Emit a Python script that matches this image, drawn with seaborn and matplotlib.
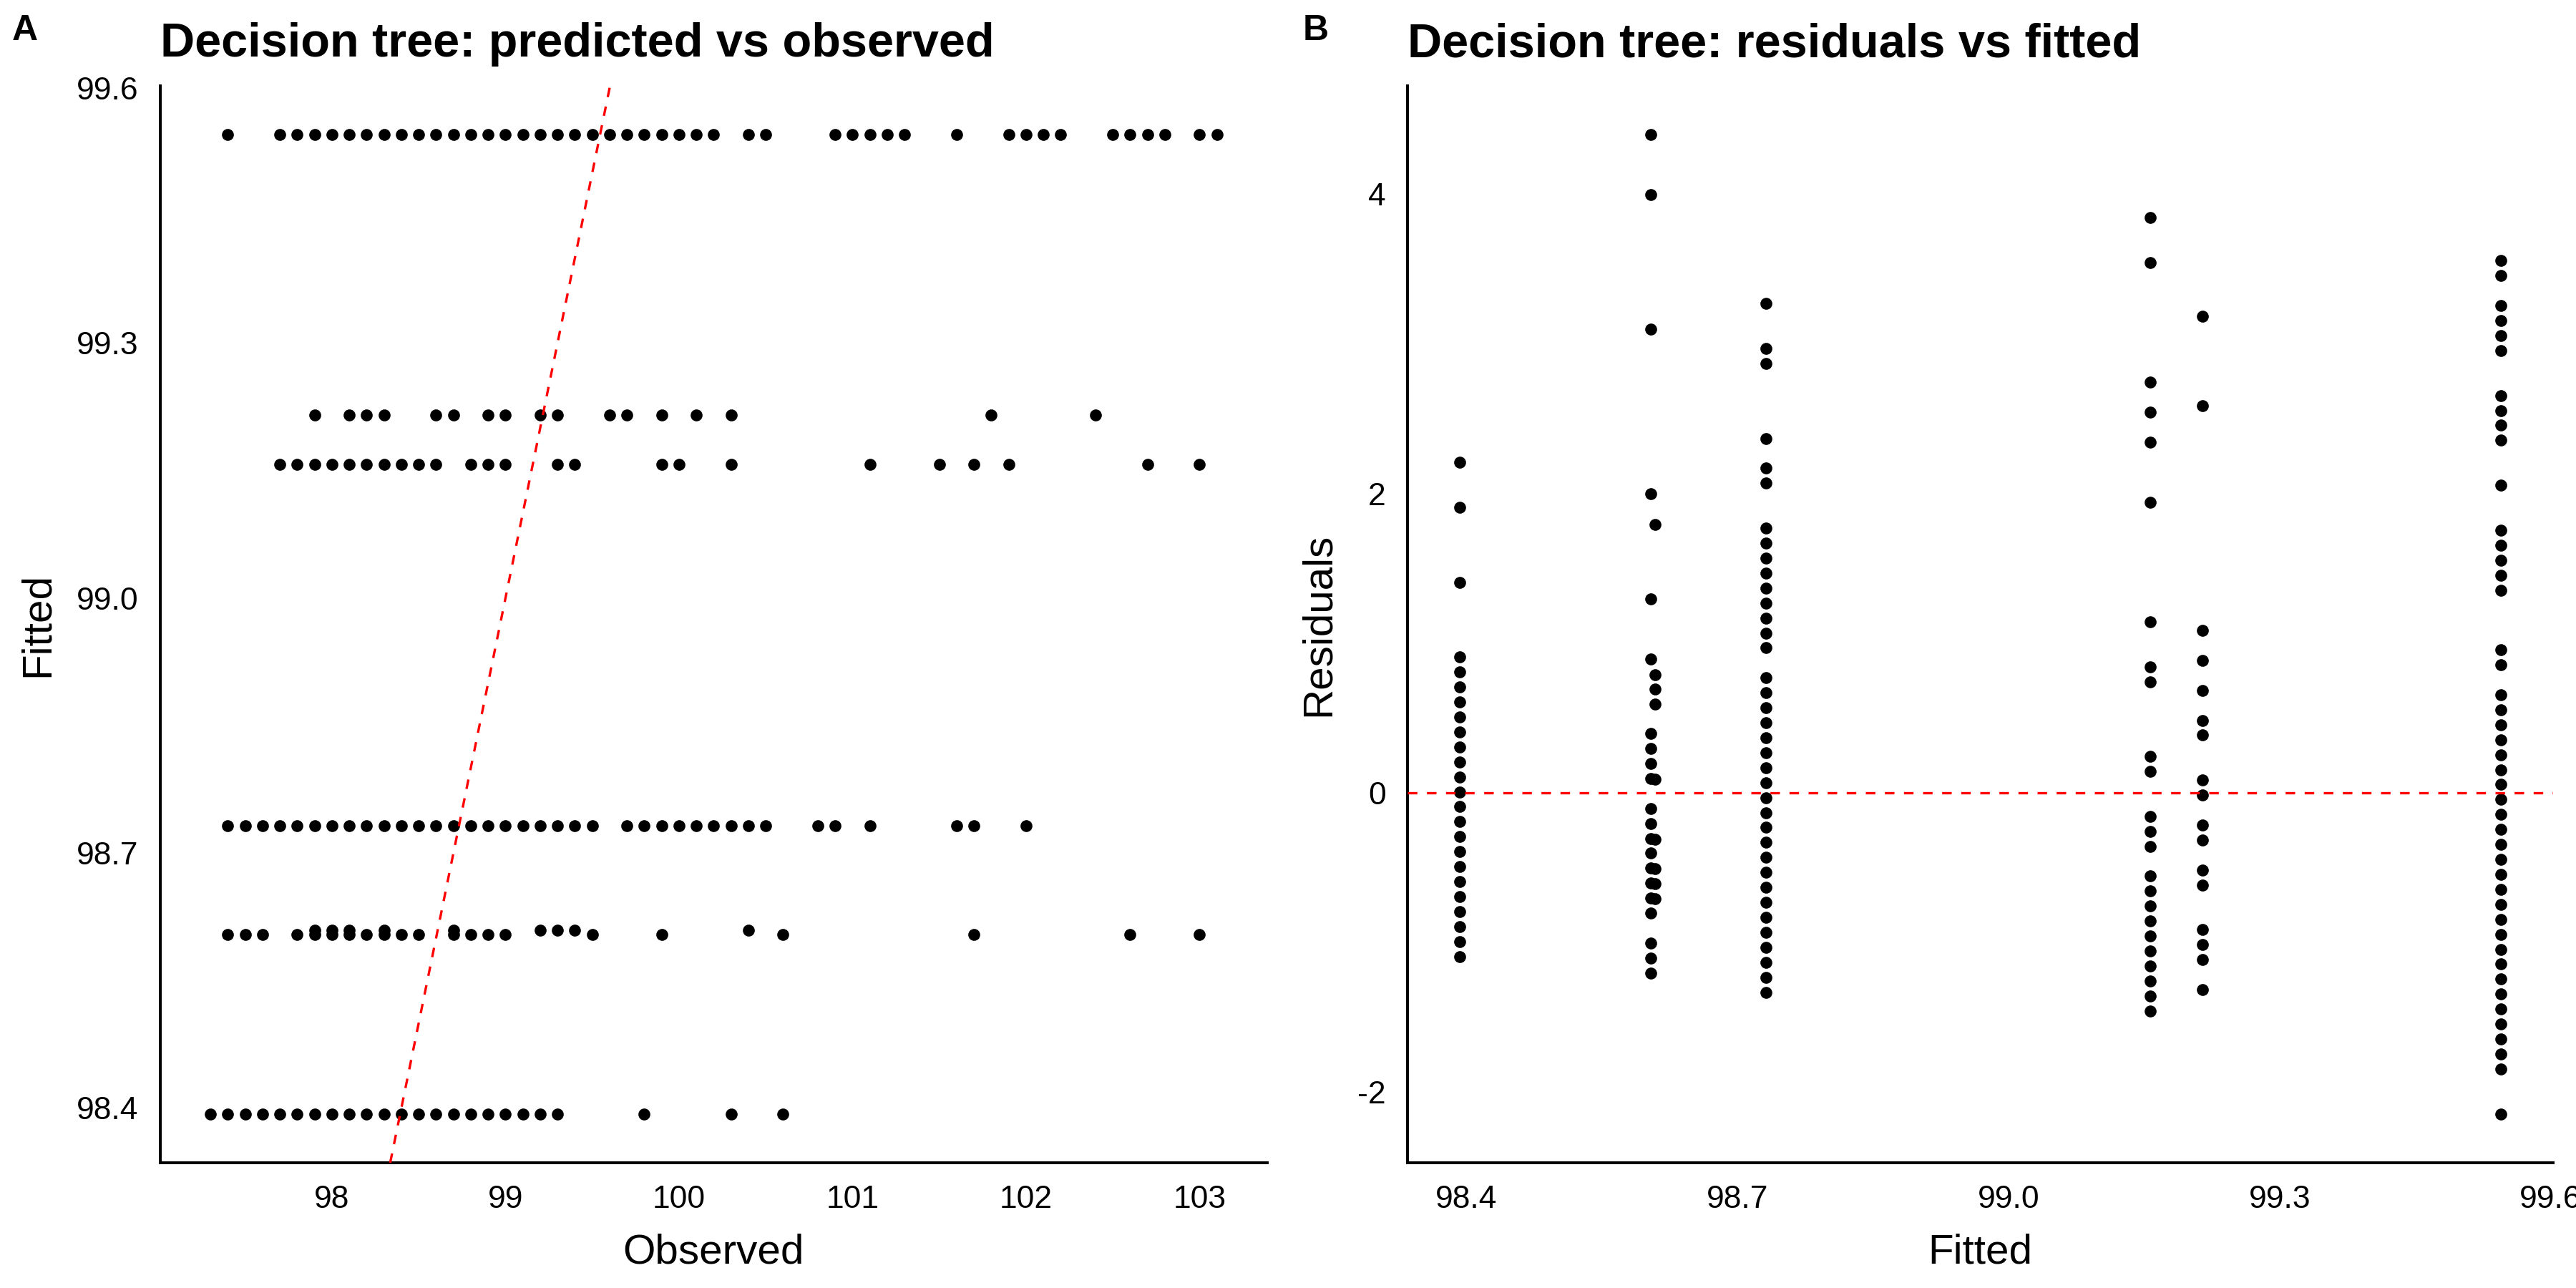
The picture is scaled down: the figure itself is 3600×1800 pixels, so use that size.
import pandas as pd
import numpy as np
import matplotlib
matplotlib.use("Agg")
import matplotlib.pyplot as plt
import seaborn as sns

# Fitted values of the tree leaves
fit_a = 98.393
fit_b = 98.604
fit_b2 = 98.609
fit_c = 98.732
fit_d = 99.157
fit_e = 99.215
fit_f = 99.545

obs_a = [97.3, 97.4, 97.5, 97.6, 97.7, 97.8, 97.9, 98.0, 98.1, 98.2, 98.3, 98.4,
         98.5, 98.6, 98.7, 98.8, 98.9, 99.0, 99.1, 99.2, 99.3, 99.8, 100.3, 100.6]
obs_b = [97.4, 97.5, 97.6, 97.8, 97.9, 98.0, 98.1, 98.2, 98.3, 98.4, 98.5, 98.7,
         98.8, 98.9, 99.0, 99.5, 99.9, 100.6, 101.7, 102.6, 103.0]
obs_b2 = [97.9, 98.0, 98.1, 98.3, 98.7, 99.2, 99.3, 99.4, 100.4]
obs_c = [97.4, 97.5, 97.6, 97.7, 97.8, 97.9, 98.0, 98.1, 98.2, 98.3, 98.4, 98.5,
         98.6, 98.7, 98.8, 98.9, 99.0, 99.1, 99.2, 99.3, 99.4, 99.5, 99.7, 99.8,
         99.9, 100.0, 100.1, 100.2, 100.3, 100.4, 100.5, 100.8, 100.9, 101.1,
         101.6, 101.7, 102.0]
obs_d = [97.7, 97.8, 97.9, 98.0, 98.1, 98.2, 98.3, 98.4, 98.5, 98.6, 98.8, 98.9,
         99.0, 99.3, 99.4, 99.9, 100.0, 100.3, 101.1, 101.5, 101.7, 101.9, 102.7,
         103.0]
obs_e = [97.9, 98.1, 98.2, 98.3, 98.6, 98.7, 98.9, 99.0, 99.2, 99.3, 99.6, 99.7,
         99.9, 100.1, 100.3, 101.8, 102.4]
obs_f = [97.4, 97.7, 97.8, 97.9, 98.0, 98.1, 98.2, 98.3, 98.4, 98.5, 98.6, 98.7,
         98.8, 98.9, 99.0, 99.1, 99.2, 99.3, 99.4, 99.5, 99.6, 99.7, 99.8, 99.9,
         100.0, 100.1, 100.2, 100.4, 100.5, 100.9, 101.0, 101.1, 101.2, 101.3,
         101.6, 101.9, 102.0, 102.1, 102.2, 102.5, 102.6, 102.7, 102.8, 103.0,
         103.1]

fit_ticks = [98.4, 98.7, 99.0, 99.3, 99.6]
obs_ticks = [98, 99, 100, 101, 102, 103]
res_ticks = [-2, 0, 2, 4]


def build_frame():
    parts = []
    for fit, obs in [(fit_a, obs_a), (fit_b, obs_b), (fit_b2, obs_b2), (fit_c, obs_c),
                     (fit_d, obs_d), (fit_e, obs_e), (fit_f, obs_f)]:
        parts.append(pd.DataFrame({"Observed": obs, "Fitted": fit}))
    df = pd.concat(parts, ignore_index=True)
    df["Residuals"] = df["Observed"] - df["Fitted"]
    return df


def expand(values, mult=0.05):
    lo, hi = np.min(values), np.max(values)
    pad = (hi - lo) * mult
    return lo - pad, hi + pad


def style_axes(ax):
    sns.despine(ax=ax)
    for side in ["left", "bottom"]:
        ax.spines[side].set_linewidth(0.96)
        ax.spines[side].set_color("black")
    ax.tick_params(axis="both", length=3.6, width=0.8, pad=3.8,
                   labelsize=10.7, colors="black")
    ax.xaxis.label.set_size(14)
    ax.yaxis.label.set_size(14)
    ax.xaxis.label.set_color("black")
    ax.yaxis.label.set_color("black")
    ax.xaxis.labelpad = 6.5
    ax.yaxis.labelpad = 6.5


data = build_frame()

sns.set_style("white")
plt.rcParams["font.family"] = ["Liberation Sans", "DejaVu Sans"]
plt.rcParams["axes.unicode_minus"] = False
plt.rcParams["text.color"] = "black"
plt.rcParams["axes.labelcolor"] = "black"

fig = plt.figure(figsize=(12, 6), dpi=300)
ax1 = fig.add_axes([0.0622, 0.0972, 0.4297, 0.8361])
ax2 = fig.add_axes([0.5465, 0.0972, 0.4446, 0.8361])

# Panel A: predicted vs observed
sns.scatterplot(data=data, x="Observed", y="Fitted", ax=ax1, color="black",
                s=16, linewidth=0, zorder=2)
ax1.axline((98.0, 98.0), slope=1, color="red", lw=0.8, ls=(0, (4, 4)), zorder=3)
ax1.set_xlim(expand(data["Observed"]))
ax1.set_ylim(expand(data["Fitted"]))
ax1.set_xticks(obs_ticks)
ax1.set_yticks(fit_ticks)
ax1.set_yticklabels([f"{t:.1f}" for t in fit_ticks])
style_axes(ax1)
ax1.set_title("Decision tree: predicted vs observed", loc="left", fontsize=16,
              fontweight="bold", pad=9.8, color="black")

# Panel B: residuals vs fitted
sns.scatterplot(data=data, x="Fitted", y="Residuals", ax=ax2, color="black",
                s=16, linewidth=0, zorder=2)
ax2.axhline(0, color="red", lw=0.8, ls=(0, (4, 4)), zorder=3)
ax2.set_xlim(expand(data["Fitted"]))
ax2.set_ylim(expand(data["Residuals"]))
ax2.set_xticks(fit_ticks)
ax2.set_xticklabels([f"{t:.1f}" for t in fit_ticks])
ax2.set_yticks(res_ticks)
style_axes(ax2)
ax2.set_title("Decision tree: residuals vs fitted", loc="left", fontsize=16,
              fontweight="bold", pad=9.8, color="black")

fig.text(17 / 3600, 1 - 56 / 1800, "A", fontsize=12, fontweight="bold", va="baseline")
fig.text(1821 / 3600, 1 - 56 / 1800, "B", fontsize=12, fontweight="bold", va="baseline")

fig.savefig("out.png", dpi=300, facecolor="white")
